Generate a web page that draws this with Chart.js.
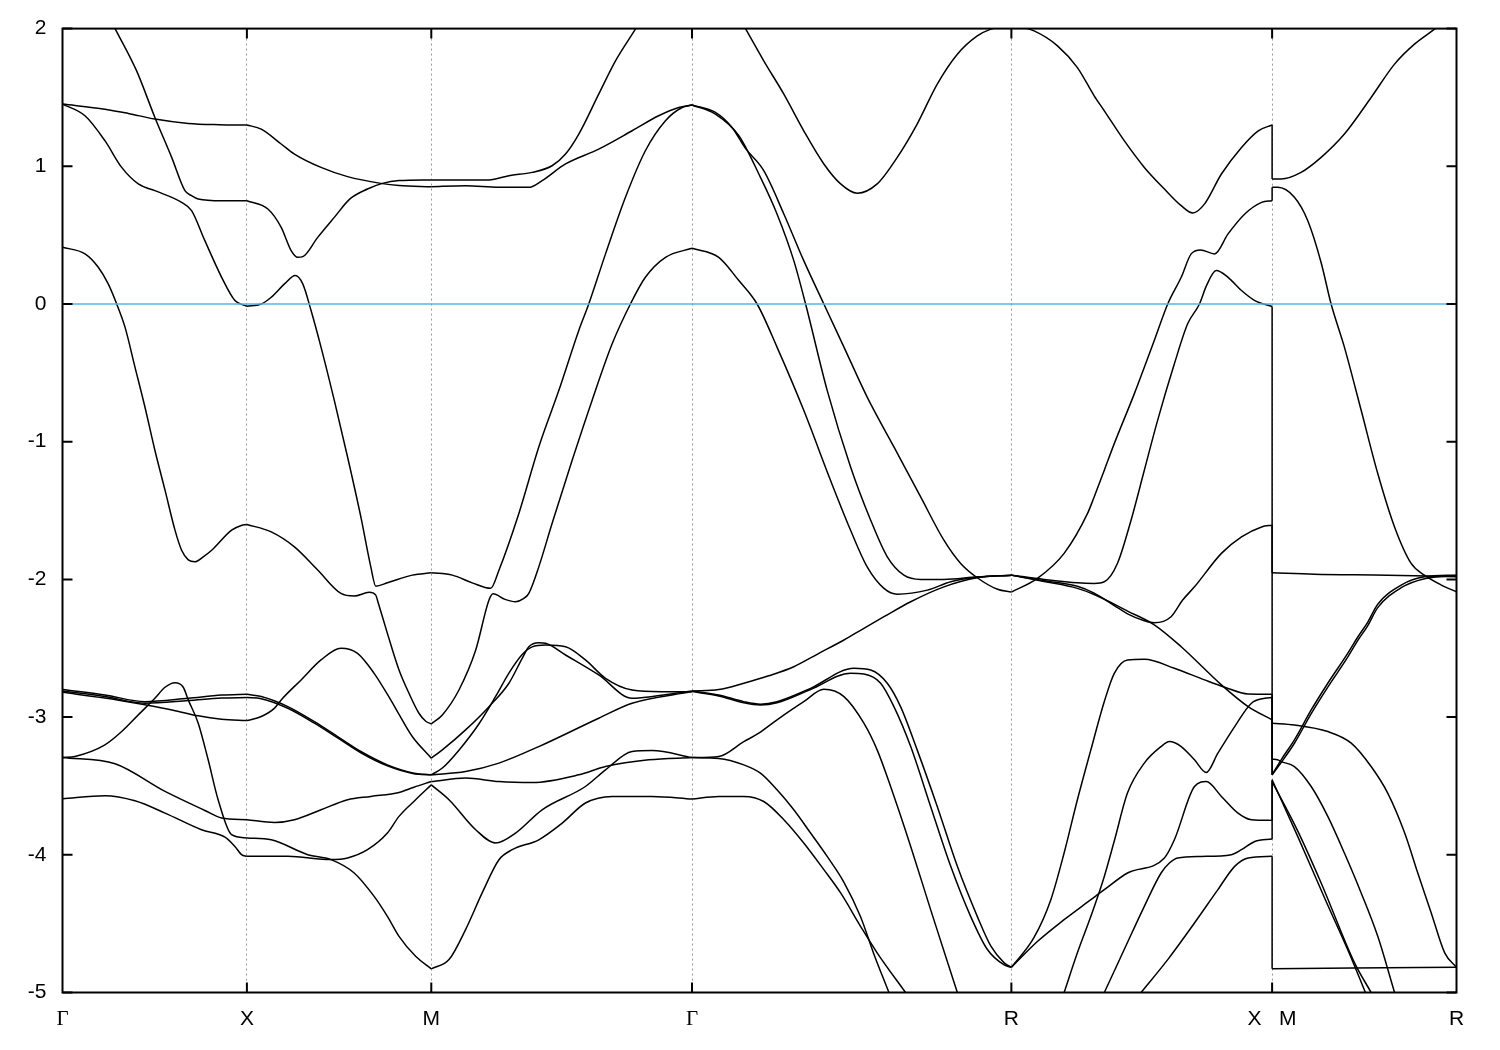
<!DOCTYPE html>
<html>
<head>
<meta charset="utf-8">
<script src="https://cdn.jsdelivr.net/npm/chart.js@4.4.1/dist/chart.umd.min.js"></script>
<style>
  html, body { margin: 0; padding: 0; background: #fff; }
  #wrap { width: 1500px; height: 1050px; }
</style>
</head>
<body>
<div id="wrap"><canvas id="bandChart"></canvas></div>
<script>
// high-symmetry points along the path (k in units of the path length)
const kTicks = [0, 1, 2, 3.414, 5.146, 6.560, 7.560];
const kLabels = ['Γ', 'X', 'M', 'Γ', 'R', 'X   M', 'R'];
const energyTicks = [2, 1, 0, -1, -2, -3, -4, -5];
const fermi = [[0, 0], [7.56, 0]];

// Γ – X
const gxT1 = [[0,1.452],[0.23,1.415],[0.357,1.384],[0.501,1.343],[0.682,1.311],[0.85,1.302],[1,1.300]];
const gxA = [[0.2,2.22],[0.285,2.0],[0.402,1.693],[0.501,1.355],[0.592,1.065],[0.664,0.823],[0.70,0.787],[0.736,0.763],[0.863,0.750],[1,0.750]];
const gxT2 = [[0,1.452],[0.122,1.367],[0.230,1.186],[0.321,0.992],[0.411,0.872],[0.501,0.823],[0.646,0.738],[0.700,0.678],[0.772,0.460],[0.863,0.194],[0.935,0.025],[1,-0.016]];
const gxB = [[0,0.412],[0.122,0.364],[0.194,0.267],[0.248,0.146],[0.294,0.0],[0.339,-0.168],[0.393,-0.458],[0.447,-0.748],[0.501,-1.062],[0.556,-1.352],[0.610,-1.642],[0.646,-1.788],[0.682,-1.858],[0.718,-1.872],[0.763,-1.836],[0.809,-1.788],[0.917,-1.642],[0.97,-1.608],[1,-1.601]];
const gxG1 = [[0,-2.800],[0.23,-2.839],[0.447,-2.888],[0.682,-2.863],[0.863,-2.840],[1,-2.834]];
const gxG2 = [[0,-2.810],[0.23,-2.850],[0.447,-2.899],[0.682,-2.880],[0.863,-2.862],[1,-2.858]];
const gxG3 = [[0,-2.820],[0.23,-2.862],[0.447,-2.911],[0.60,-2.950],[0.736,-2.991],[0.863,-3.015],[1,-3.025]];
const gxP = [[0,-3.294],[0.068,-3.286],[0.23,-3.202],[0.321,-3.105],[0.411,-2.984],[0.501,-2.863],[0.556,-2.783],[0.610,-2.750],[0.655,-2.783],[0.682,-2.875],[0.736,-3.044],[0.790,-3.310],[0.844,-3.600],[0.917,-3.854],[1,-3.878]];
const gxQ = [[0,-3.294],[0.285,-3.339],[0.556,-3.540],[0.772,-3.678],[0.863,-3.733],[1,-3.745]];
const gxL = [[0,-3.593],[0.23,-3.571],[0.393,-3.608],[0.556,-3.697],[0.754,-3.818],[0.881,-3.871],[0.935,-3.939],[0.971,-3.999],[1,-4.011]];

// X – M
const xmT1 = [[1,1.300],[1.078,1.270],[1.186,1.162],[1.258,1.089],[1.402,0.992],[1.546,0.925],[1.726,0.876],[1.825,0.860],[2,0.852]];
const xmA = [[1,0.750],[1.114,0.690],[1.186,0.557],[1.240,0.388],[1.276,0.339],[1.303,0.344],[1.384,0.484],[1.474,0.629],[1.559,0.763],[1.654,0.835],[1.735,0.876],[1.825,0.896],[2,0.901]];
const xmT2 = [[1,-0.016],[1.078,0.0],[1.132,0.049],[1.204,0.146],[1.262,0.207],[1.303,0.146],[1.348,-0.047],[1.402,-0.313],[1.474,-0.700],[1.546,-1.111],[1.618,-1.546],[1.672,-1.909],[1.699,-2.049],[1.762,-2.025],[1.897,-1.969],[2,-1.952]];
const xmB = [[1,-1.601],[1.132,-1.655],[1.258,-1.764],[1.384,-1.932],[1.510,-2.102],[1.582,-2.121],[1.663,-2.094],[1.699,-2.114],[1.710,-2.160],[1.762,-2.392],[1.825,-2.658],[1.879,-2.827],[1.933,-2.972],[1.970,-3.030],[2,-3.049]];
const xmD1 = [[1,-2.834],[1.078,-2.851],[1.222,-2.924],[1.366,-3.033],[1.492,-3.141],[1.618,-3.250],[1.762,-3.347],[1.906,-3.407],[2,-3.419]];
const xmD2 = [[1,-2.858],[1.078,-2.866],[1.222,-2.936],[1.366,-3.044],[1.492,-3.151],[1.618,-3.259],[1.762,-3.354],[1.906,-3.411],[2,-3.419]];
const xmPK = [[1,-3.025],[1.078,-2.996],[1.150,-2.935],[1.186,-2.875],[1.294,-2.730],[1.402,-2.585],[1.510,-2.500],[1.600,-2.537],[1.690,-2.682],[1.780,-2.875],[1.825,-2.980],[1.897,-3.141],[2,-3.298]];
const xmQ = [[1,-3.745],[1.150,-3.765],[1.258,-3.745],[1.402,-3.673],[1.546,-3.600],[1.672,-3.576],[1.825,-3.547],[1.906,-3.509],[2,-3.468]];
const xmP = [[1,-3.878],[1.132,-3.891],[1.330,-3.999],[1.456,-4.035],[1.582,-4.132],[1.690,-4.302],[1.762,-4.447],[1.825,-4.592],[1.915,-4.737],[2,-4.828]];
const xmL = [[1,-4.011],[1.222,-4.011],[1.456,-4.035],[1.546,-4.023],[1.654,-3.963],[1.762,-3.842],[1.825,-3.721],[1.915,-3.600],[2,-3.492]];

// M – Γ
const mgU = [[2,0.901],[2.186,0.901],[2.313,0.901],[2.421,0.932],[2.547,0.956],[2.655,1.004],[2.728,1.089],[2.800,1.234],[2.908,1.524],[2.999,1.766],[3.107,1.996],[3.2,2.2],[3.414,2.45]];
const mgN = [[2,0.852],[2.186,0.859],[2.367,0.847],[2.529,0.847],[2.601,0.896],[2.728,1.017],[2.908,1.125],[3.089,1.258],[3.233,1.367],[3.342,1.427],[3.414,1.445]];
const mgS1 = [[2,-1.952],[2.114,-1.969],[2.222,-2.025],[2.322,-2.065],[2.367,-1.933],[2.475,-1.521],[2.583,-1.038],[2.692,-0.627],[2.800,-0.192],[2.854,0.0],[2.945,0.364],[3.053,0.775],[3.161,1.113],[3.270,1.331],[3.360,1.427],[3.414,1.445]];
const mgS2 = [[2,-3.049],[2.060,-2.984],[2.150,-2.803],[2.241,-2.513],[2.313,-2.150],[2.335,-2.105],[2.400,-2.145],[2.457,-2.162],[2.500,-2.140],[2.529,-2.101],[2.583,-1.909],[2.655,-1.594],[2.764,-1.135],[2.872,-0.700],[2.981,-0.289],[3.080,0.0],[3.161,0.194],[3.270,0.339],[3.414,0.405]];
const mgC1 = [[2,-3.298],[2.060,-3.238],[2.186,-3.093],[2.313,-2.924],[2.421,-2.754],[2.493,-2.573],[2.529,-2.489],[2.583,-2.460],[2.620,-2.464],[2.728,-2.549],[2.908,-2.694],[3.089,-2.863],[3.200,-2.850],[3.414,-2.810]];
const mgC2 = [[2,-3.419],[2.060,-3.370],[2.150,-3.240],[2.258,-3.050],[2.349,-2.850],[2.421,-2.680],[2.493,-2.545],[2.547,-2.490],[2.620,-2.477],[2.728,-2.489],[2.836,-2.585],[2.945,-2.718],[3.089,-2.803],[3.250,-2.815],[3.414,-2.815]];
const mgC = [[2,-3.419],[2.186,-3.395],[2.367,-3.334],[2.583,-3.214],[2.908,-3.008],[3.089,-2.899],[3.414,-2.815]];
const mgD = [[2,-3.468],[2.186,-3.443],[2.367,-3.468],[2.547,-3.475],[2.800,-3.419],[2.945,-3.359],[3.179,-3.310],[3.414,-3.294]];
const mgE = [[2,-3.492],[2.096,-3.600],[2.241,-3.818],[2.349,-3.914],[2.457,-3.842],[2.601,-3.673],[2.836,-3.504],[2.945,-3.383],[3.089,-3.250],[3.197,-3.243],[3.414,-3.294]];
const mgF = [[2,-4.828],[2.096,-4.761],[2.186,-4.543],[2.276,-4.277],[2.367,-4.036],[2.439,-3.963],[2.583,-3.891],[2.710,-3.770],[2.836,-3.624],[2.981,-3.576],[3.197,-3.576],[3.414,-3.595]];

// Γ – R
const grU = [[3.414,2.45],[3.6,2.24],[3.704,2.0],[3.803,1.766],[3.912,1.524],[4.020,1.258],[4.129,1.017],[4.220,0.872],[4.310,0.804],[4.418,0.872],[4.527,1.065],[4.635,1.307],[4.744,1.597],[4.853,1.814],[4.961,1.947],[5.035,1.996],[5.146,2.03]];
const grG1 = [[3.414,1.445],[3.541,1.391],[3.631,1.282],[3.704,1.130],[3.803,0.968],[3.912,0.654],[4.020,0.315],[4.129,0.0],[4.238,-0.313],[4.364,-0.676],[4.509,-1.038],[4.654,-1.401],[4.780,-1.715],[4.871,-1.884],[4.961,-1.988],[5.071,-2.072],[5.146,-2.092]];
const grG2 = [[3.414,1.445],[3.541,1.379],[3.668,1.222],[3.785,0.920],[3.875,0.654],[3.966,0.315],[4.030,0.0],[4.147,-0.627],[4.274,-1.183],[4.383,-1.570],[4.473,-1.836],[4.563,-1.969],[4.654,-2.000],[4.780,-2.000],[4.961,-1.981],[5.146,-1.969]];
const grS2 = [[3.414,0.405],[3.559,0.339],[3.668,0.170],[3.767,0.0],[3.875,-0.313],[4.020,-0.772],[4.165,-1.280],[4.274,-1.643],[4.364,-1.909],[4.455,-2.065],[4.527,-2.107],[4.690,-2.078],[4.817,-2.017],[4.961,-1.985],[5.146,-1.969]];
const grR1 = [[3.414,-2.810],[3.559,-2.800],[3.695,-2.754],[3.830,-2.700],[3.966,-2.634],[4.102,-2.537],[4.238,-2.440],[4.346,-2.355],[4.455,-2.271],[4.600,-2.162],[4.780,-2.054],[4.961,-1.988],[5.146,-1.969]];
const grLa = [[3.414,-2.810],[3.559,-2.839],[3.695,-2.888],[3.785,-2.906],[3.875,-2.888],[4.057,-2.791],[4.292,-2.645],[4.383,-2.658],[4.473,-2.754],[4.545,-2.924],[4.635,-3.238],[4.744,-3.649],[4.853,-4.084],[4.961,-4.447],[5.035,-4.664],[5.107,-4.785],[5.146,-4.817]];
const grLb = [[3.414,-2.815],[3.559,-2.846],[3.695,-2.896],[3.785,-2.912],[3.875,-2.896],[4.057,-2.800],[4.274,-2.682],[4.346,-2.687],[4.437,-2.754],[4.509,-2.924],[4.600,-3.214],[4.708,-3.649],[4.817,-4.084],[4.925,-4.447],[5.016,-4.688],[5.107,-4.800],[5.146,-4.817]];
const grLc = [[3.414,-3.294],[3.559,-3.286],[3.695,-3.178],[3.776,-3.117],[3.875,-3.020],[4.020,-2.888],[4.129,-2.798],[4.238,-2.851],[4.346,-3.044],[4.418,-3.238],[4.491,-3.504],[4.600,-3.939],[4.708,-4.398],[4.853,-5.0]];
const grD1 = [[3.414,-3.294],[3.559,-3.300],[3.695,-3.347],[3.785,-3.407],[3.875,-3.528],[3.966,-3.673],[4.057,-3.842],[4.147,-4.012],[4.238,-4.200],[4.328,-4.450],[4.400,-4.720],[4.482,-5.0]];
const grD2 = [[3.414,-3.595],[3.559,-3.576],[3.695,-3.576],[3.803,-3.613],[3.912,-3.745],[4.020,-3.914],[4.129,-4.108],[4.220,-4.277],[4.328,-4.519],[4.418,-4.712],[4.572,-5.0]];

// R – X
const rxU = [[5.146,2.03],[5.269,1.983],[5.396,1.875],[5.504,1.717],[5.595,1.512],[5.650,1.403],[5.758,1.186],[5.867,0.992],[5.976,0.835],[6.067,0.714],[6.130,0.661],[6.194,0.727],[6.285,0.944],[6.394,1.137],[6.485,1.258],[6.560,1.300]];
const rx1 = [[5.146,-2.092],[5.287,-1.993],[5.432,-1.811],[5.559,-1.521],[5.595,-1.401],[5.650,-1.207],[5.704,-1.014],[5.813,-0.651],[5.921,-0.265],[5.994,0.0],[6.067,0.194],[6.121,0.364],[6.172,0.393],[6.248,0.364],[6.321,0.509],[6.412,0.654],[6.503,0.738],[6.560,0.750]];
const rx2 = [[5.146,-1.969],[5.324,-2.000],[5.504,-2.025],[5.595,-2.029],[5.650,-2.017],[5.721,-1.884],[5.795,-1.570],[5.867,-1.207],[5.939,-0.845],[6.030,-0.434],[6.102,-0.144],[6.166,0.0],[6.203,0.130],[6.257,0.243],[6.321,0.194],[6.394,0.098],[6.466,0.025],[6.560,-0.018]];
const rx3 = [[5.146,-1.969],[5.324,-2.010],[5.504,-2.050],[5.595,-2.100],[5.704,-2.190],[5.776,-2.250],[5.867,-2.300],[5.921,-2.315],[6.012,-2.271],[6.075,-2.150],[6.139,-2.054],[6.285,-1.811],[6.394,-1.691],[6.503,-1.619],[6.560,-1.606]];
const rx4 = [[5.146,-1.969],[5.324,-2.015],[5.504,-2.065],[5.595,-2.110],[5.776,-2.230],[5.921,-2.330],[6.067,-2.489],[6.285,-2.766],[6.430,-2.924],[6.560,-3.020]];
const rx5 = [[5.146,-4.817],[5.269,-4.600],[5.360,-4.326],[5.432,-3.987],[5.504,-3.600],[5.577,-3.238],[5.650,-2.887],[5.704,-2.682],[5.776,-2.585],[5.867,-2.580],[6.030,-2.645],[6.194,-2.730],[6.303,-2.783],[6.430,-2.832],[6.560,-2.834]];
const rx6 = [[5.650,-5.0],[5.758,-4.688],[5.867,-4.374],[5.958,-4.132],[6.003,-4.060],[6.048,-4.023],[6.175,-4.012],[6.339,-3.999],[6.394,-3.963],[6.466,-3.903],[6.560,-3.886]];
const rx7 = [[5.849,-5.0],[5.994,-4.761],[6.139,-4.495],[6.266,-4.253],[6.357,-4.084],[6.430,-4.023],[6.560,-4.011]];
const rx8 = [[5.146,-4.817],[5.287,-4.630],[5.432,-4.471],[5.577,-4.326],[5.650,-4.253],[5.776,-4.132],[5.976,-4.023],[6.030,-3.891],[6.139,-3.504],[6.203,-3.468],[6.285,-3.576],[6.375,-3.697],[6.448,-3.745],[6.560,-3.750]];
const rx9 = [[5.432,-5.0],[5.504,-4.712],[5.577,-4.447],[5.650,-4.157],[5.704,-3.900],[5.776,-3.550],[5.867,-3.334],[5.958,-3.214],[6.003,-3.178],[6.067,-3.214],[6.139,-3.310],[6.203,-3.402],[6.266,-3.262],[6.357,-3.069],[6.448,-2.899],[6.521,-2.863],[6.560,-2.858]];

// M – R
const mrU = [[6.560,0.908],[6.609,0.908],[6.717,0.956],[6.826,1.065],[6.952,1.234],[7.097,1.500],[7.224,1.742],[7.332,1.887],[7.441,1.996],[7.560,2.12]];
const mr1 = [[6.560,0.847],[6.590,0.847],[6.681,0.775],[6.753,0.606],[6.826,0.300],[6.880,0.0],[6.952,-0.313],[7.043,-0.772],[7.133,-1.231],[7.224,-1.619],[7.314,-1.884],[7.386,-1.969],[7.478,-2.041],[7.560,-2.090]];
const mrFlat = [[6.560,-1.952],[6.789,-1.962],[7.187,-1.969],[7.403,-1.976],[7.560,-1.981]];
const mrD = [[6.560,-3.044],[6.681,-3.057],[6.862,-3.105],[6.989,-3.189],[7.097,-3.359],[7.187,-3.552],[7.279,-3.842],[7.350,-4.132],[7.423,-4.422],[7.496,-4.712],[7.560,-4.817]];
const mrC = [[6.560,-3.306],[6.590,-3.310],[6.609,-3.323],[6.681,-3.359],[6.772,-3.504],[6.862,-3.721],[6.952,-3.987],[7.043,-4.277],[7.133,-4.592],[7.224,-5.0]];
const mrUp1 = [[6.560,-3.419],[6.609,-3.310],[6.681,-3.165],[6.772,-2.948],[6.862,-2.754],[6.970,-2.537],[7.024,-2.420],[7.079,-2.310],[7.133,-2.180],[7.260,-2.041],[7.386,-1.981],[7.560,-1.969]];
const mrUp2 = [[6.560,-3.419],[6.609,-3.330],[6.681,-3.190],[6.772,-2.975],[6.862,-2.782],[6.970,-2.565],[7.024,-2.445],[7.079,-2.335],[7.133,-2.205],[7.260,-2.060],[7.386,-1.995],[7.560,-1.972]];
const mrA = [[6.560,-3.455],[6.700,-3.870],[6.850,-4.330],[6.980,-4.720],[7.066,-5.0]];
const mrB = [[6.560,-3.468],[6.700,-3.830],[6.826,-4.205],[7.007,-4.785],[7.097,-5.0]];
const mrBottom = [[6.560,-4.828],[7.000,-4.822],[7.560,-4.817]];

// band energies on both sides of the X|M break
const jumpX = [1.300, 0.750, -0.018, -1.606, -2.834, -2.858, -3.020, -3.750, -3.886, -4.011];
const jumpM = [0.908, 0.847, -1.952, -3.044, -3.306, -3.419, -3.419, -3.455, -3.468, -4.828];

const curves = [
    gxT1, gxA, gxT2, gxB, gxG1, gxG2, gxG3, gxP, gxQ, gxL,
    xmT1, xmA, xmT2, xmB, xmD1, xmD2, xmPK, xmQ, xmP, xmL,
    mgU, mgN, mgS1, mgS2, mgC1, mgC2, mgC, mgD, mgE, mgF,
    grU, grG1, grG2, grS2, grR1, grLa, grLb, grLc, grD1, grD2,
    rxU, rx1, rx2, rx3, rx4, rx5, rx6, rx7, rx8, rx9,
    mrU, mr1, mrFlat, mrD, mrC, mrUp1, mrUp2, mrA, mrB, mrBottom
];

const FONT = "'Liberation Sans', Arial, sans-serif";
const LINE_W = 1.5;
const toXY = arr => arr.map(p => ({ x: p[0], y: p[1] }));

const datasets = [{
    data: toXY(fermi),
    borderColor: '#56b4e9',
    borderWidth: 1.7,
    pointRadius: 0,
    tension: 0,
    order: 0
}];

curves.forEach(c => {
    datasets.push({
        data: toXY(c),
        borderColor: '#000',
        borderWidth: LINE_W,
        pointRadius: 0,
        cubicInterpolationMode: 'monotone',
        order: 1
    });
});

jumpX.forEach((e, i) => {
    datasets.push({
        data: [{ x: kTicks[5], y: e }, { x: kTicks[5], y: jumpM[i] }],
        borderColor: '#000',
        borderWidth: LINE_W,
        pointRadius: 0,
        tension: 0,
        order: 1
    });
});

// frame and gnuplot-style inward tick marks
const framePlugin = {
    id: 'frame',
    afterDraw(chart) {
        const { ctx, chartArea: a, scales } = chart;
        ctx.save();
        ctx.strokeStyle = '#000';
        ctx.lineWidth = 2;
        ctx.strokeRect(a.left, a.top, a.right - a.left, a.bottom - a.top);
        ctx.beginPath();
        energyTicks.forEach(v => {
            const py = scales.y.getPixelForValue(v);
            ctx.moveTo(a.left, py); ctx.lineTo(a.left + 10, py);
            ctx.moveTo(a.right, py); ctx.lineTo(a.right - 10, py);
        });
        kTicks.slice(1, -1).forEach(v => {
            const px = scales.x.getPixelForValue(v);
            ctx.moveTo(px, a.top); ctx.lineTo(px, a.top + 10);
            ctx.moveTo(px, a.bottom); ctx.lineTo(px, a.bottom - 10);
        });
        ctx.stroke();
        ctx.restore();
    }
};

new Chart(document.getElementById('bandChart'), {
    type: 'line',
    data: { datasets: datasets },
    options: {
        responsive: true,
        maintainAspectRatio: false,
        animation: false,
        events: [],
        layout: { padding: { left: 0, right: 43.5, top: 27.5, bottom: 0 } },
        plugins: { legend: { display: false }, tooltip: { enabled: false } },
        scales: {
            x: {
                type: 'linear',
                min: 0,
                max: 7.56,
                afterBuildTicks: s => { s.ticks = kTicks.map(v => ({ value: v })); },
                afterFit: s => { s.height = 57.5; },
                ticks: {
                    autoSkip: false,
                    maxRotation: 0,
                    minRotation: 0,
                    padding: 14,
                    color: '#000',
                    font: ctx => ({
                        family: (ctx.tick && ctx.tick.label === 'Γ') ? "'Liberation Serif', serif" : FONT,
                        size: 21
                    }),
                    callback: (v, i) => kLabels[i]
                },
                grid: {
                    drawTicks: false,
                    lineWidth: 1,
                    color: ctx => (ctx.tick && ctx.tick.value > 0.01 && ctx.tick.value < 7.5) ? '#9a9a9a' : 'rgba(0,0,0,0)'
                },
                border: { display: false, dash: [2, 3] }
            },
            y: {
                type: 'linear',
                min: -5,
                max: 2,
                afterBuildTicks: s => { s.ticks = energyTicks.map(v => ({ value: v })); },
                afterFit: s => { s.width = 62.5; },
                ticks: {
                    padding: 16,
                    color: '#000',
                    font: { family: FONT, size: 21 },
                    callback: v => String(v)
                },
                grid: { display: false, drawTicks: false },
                border: { display: false }
            }
        }
    },
    plugins: [framePlugin]
});
</script>
</body>
</html>
